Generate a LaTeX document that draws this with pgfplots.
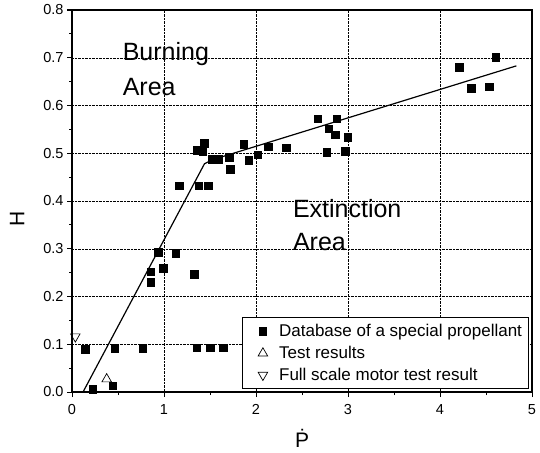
\documentclass[border=0pt]{standalone}
\usepackage{pgfplots}
\pgfplotsset{compat=1.18}
\usepackage{fontspec}
\setmainfont{Liberation Sans}
\usetikzlibrary{calc}

% database of a special propellant
\pgfplotstableread{
x y
0.145 0.090
0.225 0.006
0.442 0.013
0.464 0.092
0.768 0.092
0.855 0.252
0.855 0.230
0.938 0.293
0.993 0.259
1.127 0.291
1.166 0.432
1.330 0.247
1.355 0.093
1.355 0.507
1.377 0.432
1.420 0.504
1.435 0.521
1.480 0.432
1.500 0.093
1.520 0.488
1.595 0.488
1.645 0.093
1.710 0.492
1.717 0.467
1.866 0.519
1.920 0.485
2.020 0.497
2.130 0.514
2.326 0.512
2.670 0.572
2.768 0.502
2.790 0.551
2.860 0.539
2.877 0.572
2.967 0.504
2.997 0.534
4.210 0.680
4.337 0.636
4.536 0.639
4.605 0.701
}\database

\begin{document}
\begin{tikzpicture}
\begin{axis}[
  name=ax,
  scale only axis,
  width=460pt, height=382pt,
  xmin=0, xmax=5, ymin=0, ymax=0.8,
  xtick={0,1,2,3,4,5},
  ytick={0,0.1,...,0.8},
  minor x tick num=1,
  minor y tick num=1,
  yticklabel style={/pgf/number format/.cd,fixed,fixed zerofill,precision=1},
  xticklabel style={yshift=-4pt},
  /pgf/number format/assume math mode=true,
  tick align=outside,
  xtick pos=bottom, ytick pos=left,
  major tick length=5pt, minor tick length=3pt,
  tick style={black, line width=1pt},
  axis line style={line width=1.5pt},
  grid=major,
  grid style={black, densely dotted, line width=0.5pt},
  ticklabel style={font=\fontsize{14.5}{16}\selectfont},
  xlabel={\.{P}}, ylabel={H},
  label style={font=\fontsize{21}{24}\selectfont},
  xlabel style={yshift=-8pt},
  ylabel style={at={(ticklabel cs:0.453)}},
  ylabel shift=12pt,
  legend style={at={(rel axis cs:0.9935,0.008)}, anchor=south east,
    draw=black, line width=1pt, font=\fontsize{17}{19}\selectfont,
    row sep=4pt, inner sep=4.5pt},
  legend image code/.code={
    \path[draw=none] (0cm,0cm) (1.05cm,0cm);
    \draw[#1] plot coordinates {(0.55cm,0cm)};},
  legend cell align=left,
  clip=false,
]
\addplot[only marks, mark=square*, mark size=3.8pt, black] table {\database};
\addlegendentry{Database of a special propellant}
\addplot[only marks, mark=triangle, mark size=5.5pt, black, mark options={line width=0.7pt}]
  coordinates {(0.377,0.027)};
\addlegendentry{Test results}
\addplot[only marks, mark=triangle, mark size=5.5pt, black, mark options={rotate=180, line width=0.7pt}]
  coordinates {(0.036,0.116)};
\addlegendentry{Full scale motor test result}
\addplot[black, line width=1.2pt, forget plot]
  coordinates {(0.12,0) (1.44,0.478) (1.52,0.486) (4.83,0.683)};
\node[anchor=west, align=left, font=\fontsize{25}{35}\selectfont, inner sep=0pt]
  at (axis cs:0.55,0.676) {Burning\\Area};
\node[anchor=west, align=left, font=\fontsize{25}{33}\selectfont, inner sep=0pt]
  at (axis cs:2.40,0.350) {Extinction\\Area};
\end{axis}
\pgfresetboundingbox
\path[use as bounding box] ($(ax.south west)+(-72pt,-60pt)$) rectangle ($(ax.north east)+(8pt,10pt)$);
\end{tikzpicture}
\end{document}
